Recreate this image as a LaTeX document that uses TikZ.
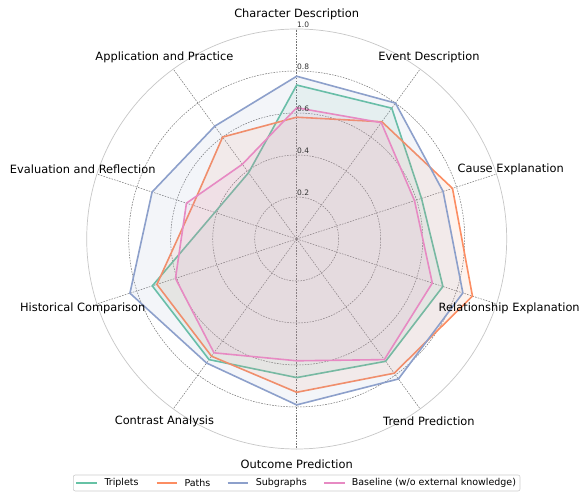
\documentclass[tikz,border=0pt]{standalone}
\usepackage{fontspec}
\setmainfont{DejaVu Sans}
\usetikzlibrary{calc}
\definecolor{cTrip}{HTML}{66C2A5}
\definecolor{cPath}{HTML}{FC8D62}
\definecolor{cSub}{HTML}{8DA0CB}
\definecolor{cBase}{HTML}{E78AC3}
\tikzset{
  gridcirc/.style={draw=black!55, line width=0.5pt, dash pattern=on 1.6pt off 1.2pt},
  gridaxis/.style={draw=black!55, line width=0.5pt, dash pattern=on 1.6pt off 1.2pt},
  outercirc/.style={draw=black!22, line width=0.7pt},
  series/.style={draw=#1, fill=#1, fill opacity=0.1, draw opacity=1, line width=1.6pt, line join=miter},
  axlabel/.style={font=\fontsize{11.4}{13}\selectfont, inner sep=0pt, anchor=center},
  ticklab/.style={font=\fontsize{7.5}{9}\selectfont, text=black!80, inner sep=0pt, anchor=south west},
  legtext/.style={font=\fontsize{9.5}{11}\selectfont, inner sep=0pt, anchor=west},
  legline/.style={draw=#1, line width=1.6pt}
}
\begin{document}
\begin{tikzpicture}[x=1pt,y=1pt]
\useasboundingbox (0,0) rectangle (579,492);
\fill[white] (0,0) rectangle (579,492);
\coordinate (C) at (296.7,253);
\begin{scope}[shift={(C)}]
  % grid
  \foreach \r in {42,84,126,168} \draw[gridcirc] (0,0) circle (\r);
  \draw[outercirc] (0,0) circle (210);
  \foreach \a in {90,54,18,-18,-54,-90,-126,-162,162,126}
    \draw[gridaxis] (0,0) -- (\a:210);
  % series
  \draw[series=cTrip] (90:{210*0.733}) -- (54:{210*0.77}) -- (18:{210*0.625}) -- (-18:{210*0.732}) -- (-54:{210*0.72}) -- (-90:{210*0.66}) -- (-126:{210*0.71}) -- (-162:{210*0.723}) -- (162:{210*0.41}) -- (126:{210*0.39}) -- cycle;
  \draw[series=cPath] (90:{210*0.58}) -- (54:{210*0.69}) -- (18:{210*0.78}) -- (-18:{210*0.88}) -- (-54:{210*0.79}) -- (-90:{210*0.73}) -- (-126:{210*0.69}) -- (-162:{210*0.70}) -- (162:{210*0.52}) -- (126:{210*0.60}) -- cycle;
  \draw[series=cSub] (90:{210*0.775}) -- (54:{210*0.80}) -- (18:{210*0.733}) -- (-18:{210*0.832}) -- (-54:{210*0.824}) -- (-90:{210*0.79}) -- (-126:{210*0.73}) -- (-162:{210*0.835}) -- (162:{210*0.724}) -- (126:{210*0.664}) -- cycle;
  \draw[series=cBase] (90:{210*0.625}) -- (54:{210*0.685}) -- (18:{210*0.59}) -- (-18:{210*0.679}) -- (-54:{210*0.71}) -- (-90:{210*0.58}) -- (-126:{210*0.67}) -- (-162:{210*0.607}) -- (162:{210*0.552}) -- (126:{210*0.44}) -- cycle;
  % tick labels
  \node[ticklab] (t2) at (0.3,43.5) {0.2};
  \node[ticklab] (t4) at (0.3,85.5) {0.4};
  \node[ticklab] (t6) at (0.3,127.5) {0.6};
  \node[ticklab] (t8) at (0.3,169.5) {0.8};
  \node[ticklab] (t10) at (0.3,211.5) {1.0};
  % axis labels
  \node[axlabel] (l1) at (90:225) {Character Description};
  \node[axlabel] (l2) at (54:225) {Event Description};
  \node[axlabel] (l3) at (18:225) {Cause Explanation};
  \node[axlabel, xshift=-1.5pt] (l4) at (-18:225) {Relationship Explanation};
  \node[axlabel] (l5) at (-54:225) {Trend Prediction};
  \node[axlabel] (l6) at (-90:225) {Outcome Prediction};
  \node[axlabel] (l7) at (-126:225) {Contrast Analysis};
  \node[axlabel] (l8) at (-162:225) {Historical Comparison};
  \node[axlabel] (l9) at (162:225) {Evaluation and Reflection};
  \node[axlabel] (l10) at (126:225) {Application and Practice};
\end{scope}
% legend
\draw[draw=black!20, fill=white, rounded corners=2pt, line width=0.6pt] (73.3,1) rectangle (520,17);
\draw[legline=cTrip] (76,9) -- (96.7,9);
\node[legtext] (g1) at (104.3,9) {Triplets};
\draw[legline=cPath] (156.7,9) -- (176.7,9);
\node[legtext] (g2) at (184.3,9) {Paths};
\draw[legline=cSub] (227.7,9) -- (248.3,9);
\node[legtext] (g3) at (255.7,9) {Subgraphs};
\draw[legline=cBase] (324.3,9) -- (345,9);
\node[legtext] (g4) at (351.7,9) {Baseline (w/o external knowledge)};
\end{tikzpicture}
\end{document}
